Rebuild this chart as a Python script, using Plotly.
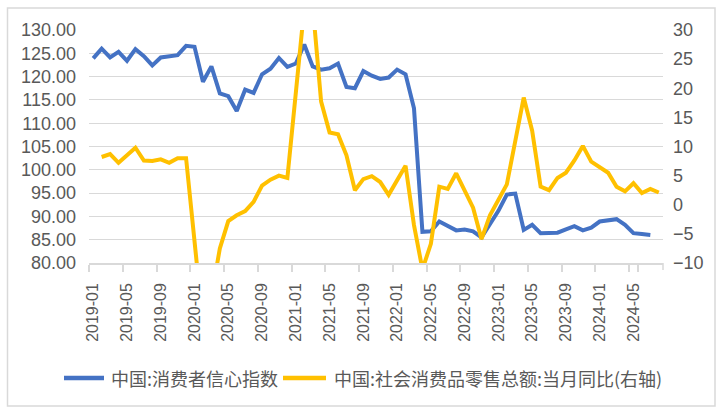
import plotly.graph_objects as go

months = [
    "2019-01", "2019-02", "2019-03", "2019-04", "2019-05", "2019-06", "2019-07", "2019-08", "2019-09", "2019-10", "2019-11", "2019-12",
    "2020-01", "2020-02", "2020-03", "2020-04", "2020-05", "2020-06", "2020-07", "2020-08", "2020-09", "2020-10", "2020-11", "2020-12",
    "2021-01", "2021-02", "2021-03", "2021-04", "2021-05", "2021-06", "2021-07", "2021-08", "2021-09", "2021-10", "2021-11", "2021-12",
    "2022-01", "2022-02", "2022-03", "2022-04", "2022-05", "2022-06", "2022-07", "2022-08", "2022-09", "2022-10", "2022-11", "2022-12",
    "2023-01", "2023-02", "2023-03", "2023-04", "2023-05", "2023-06", "2023-07", "2023-08", "2023-09", "2023-10", "2023-11", "2023-12",
    "2024-01", "2024-02", "2024-03", "2024-04", "2024-05", "2024-06", "2024-07", "2024-08",
]

# 中国:消费者信心指数 (left axis)
confidence = [
    123.9, 126.0, 124.1, 125.3, 123.4, 125.9, 124.4, 122.4, 124.1, 124.3, 124.6, 126.6,
    126.4, 118.9, 122.2, 116.4, 115.8, 112.6, 117.2, 116.5, 120.5, 121.7, 124.0, 122.1,
    122.8, 126.9, 122.2, 121.5, 121.8, 122.8, 117.8, 117.5, 121.2, 120.2, 119.5, 119.8,
    121.5, 120.5, 113.2, 86.7, 86.8, 88.9, 87.9, 87.0, 87.2, 86.8, 85.5, 88.3,
    91.2, 94.7, 94.9, 87.1, 88.2, 86.4, 86.4, 86.5, 87.2, 87.9, 87.0, 87.6,
    88.9, 89.1, 89.4, 88.2, 86.4, 86.2, 86.0, None,
]

# 中国:社会消费品零售总额:当月同比 (right axis)
retail_yoy = [
    None, 8.2, 8.7, 7.2, 8.6, 9.8, 7.6, 7.5, 7.8, 7.2, 8.0, 8.0,
    None, -20.5, -15.8, -7.5, -2.8, -1.8, -1.1, 0.5, 3.3, 4.3, 5.0, 4.6,
    None, 33.8, 34.2, 17.7, 12.4, 12.1, 8.5, 2.5, 4.4, 4.9, 3.9, 1.7,
    None, 6.7, -3.5, -11.1, -6.7, 3.1, 2.7, 5.4, 2.5, -0.5, -5.9, -1.8,
    None, 3.5, 10.6, 18.4, 12.7, 3.1, 2.5, 4.6, 5.5, 7.6, 10.1, 7.4,
    None, 5.5, 3.1, 2.3, 3.7, 2.0, 2.7, 2.1,
]

tick_labels = months[::4]

name_left = "中国:消费者信心指数"
name_right = "中国:社会消费品零售总额:当月同比(右轴)"

BLUE = "#4472C4"
YELLOW = "#FFC000"
GRAY_TXT = "#595959"
GRID = "#d9d9d9"
NUM_FONT = "Liberation Sans, Arial, sans-serif"
CJK_FONT = "Noto Sans CJK SC, sans-serif"

fig = go.Figure()
fig.add_trace(go.Scatter(
    x=months, y=confidence, name=name_left, mode="lines",
    line=dict(color=BLUE, width=4), yaxis="y",
))
fig.add_trace(go.Scatter(
    x=months, y=retail_yoy, name=name_right, mode="lines", connectgaps=True,
    line=dict(color=YELLOW, width=4), yaxis="y2",
))

W, H = 724, 414
ml, mr, mt, mb = 89, 61, 30, 151
pw, ph = W - ml - mr, H - mt - mb

def px2paper_x(px):
    return (px - ml) / pw

def px2paper_y(py):
    return (H - mb - py) / ph

LEG_Y = 378
legend_shapes = [
    dict(type="line", xref="paper", yref="paper",
         x0=px2paper_x(64), x1=px2paper_x(104), y0=px2paper_y(LEG_Y), y1=px2paper_y(LEG_Y),
         line=dict(color=BLUE, width=4.5)),
    dict(type="line", xref="paper", yref="paper",
         x0=px2paper_x(283), x1=px2paper_x(326), y0=px2paper_y(LEG_Y), y1=px2paper_y(LEG_Y),
         line=dict(color=YELLOW, width=4.5)),
]
legend_texts = [
    dict(text=name_left, xref="paper", yref="paper", x=px2paper_x(109), y=px2paper_y(LEG_Y),
         xanchor="left", yanchor="middle", showarrow=False,
         font=dict(family=CJK_FONT, size=18, color=GRAY_TXT)),
    dict(text=name_right, xref="paper", yref="paper", x=px2paper_x(332), y=px2paper_y(LEG_Y),
         xanchor="left", yanchor="middle", showarrow=False,
         font=dict(family=CJK_FONT, size=18, color=GRAY_TXT)),
]

fig.update_layout(
    width=W, height=H,
    margin=dict(l=ml, r=mr, t=mt, b=mb, autoexpand=False),
    paper_bgcolor="white", plot_bgcolor="white",
    showlegend=False,
    xaxis=dict(
        type="category", range=[-0.5, len(months) - 0.5],
        tickmode="array", tickvals=tick_labels, ticktext=tick_labels,
        tickangle=-90, tickson="boundaries", ticks="outside", ticklen=7,
        tickcolor=GRID, tickwidth=1.5,
        showline=True, linecolor=GRID, linewidth=1.5, showgrid=False,
        tickfont=dict(family=NUM_FONT, size=16, color=GRAY_TXT),
        ticklabelstandoff=12,
    ),
    yaxis=dict(
        range=[80, 130], dtick=5, tick0=80, tickformat=".2f",
        showgrid=True, gridcolor=GRID, gridwidth=1.3, zeroline=False, showline=False,
        tickfont=dict(family=NUM_FONT, size=18, color=GRAY_TXT),
        ticklabelstandoff=12,
    ),
    yaxis2=dict(
        range=[-10, 30], dtick=5, tick0=-10, overlaying="y", side="right",
        showgrid=False, zeroline=False, showline=False,
        tickfont=dict(family=NUM_FONT, size=18, color=GRAY_TXT),
        ticklabelstandoff=9,
    ),
    shapes=[
        dict(type="rect", xref="paper", yref="paper",
             x0=px2paper_x(7.5), x1=px2paper_x(715), y0=px2paper_y(406), y1=px2paper_y(8),
             line=dict(color=GRID, width=1.5), fillcolor="rgba(0,0,0,0)", layer="below"),
        dict(type="line", xref="paper", yref="paper",
             x0=1, x1=1, y0=0, y1=px2paper_y(H - mb + 7),
             line=dict(color=GRID, width=1.5)),
    ] + legend_shapes,
    annotations=legend_texts,
)

fig.write_html("out.html")
